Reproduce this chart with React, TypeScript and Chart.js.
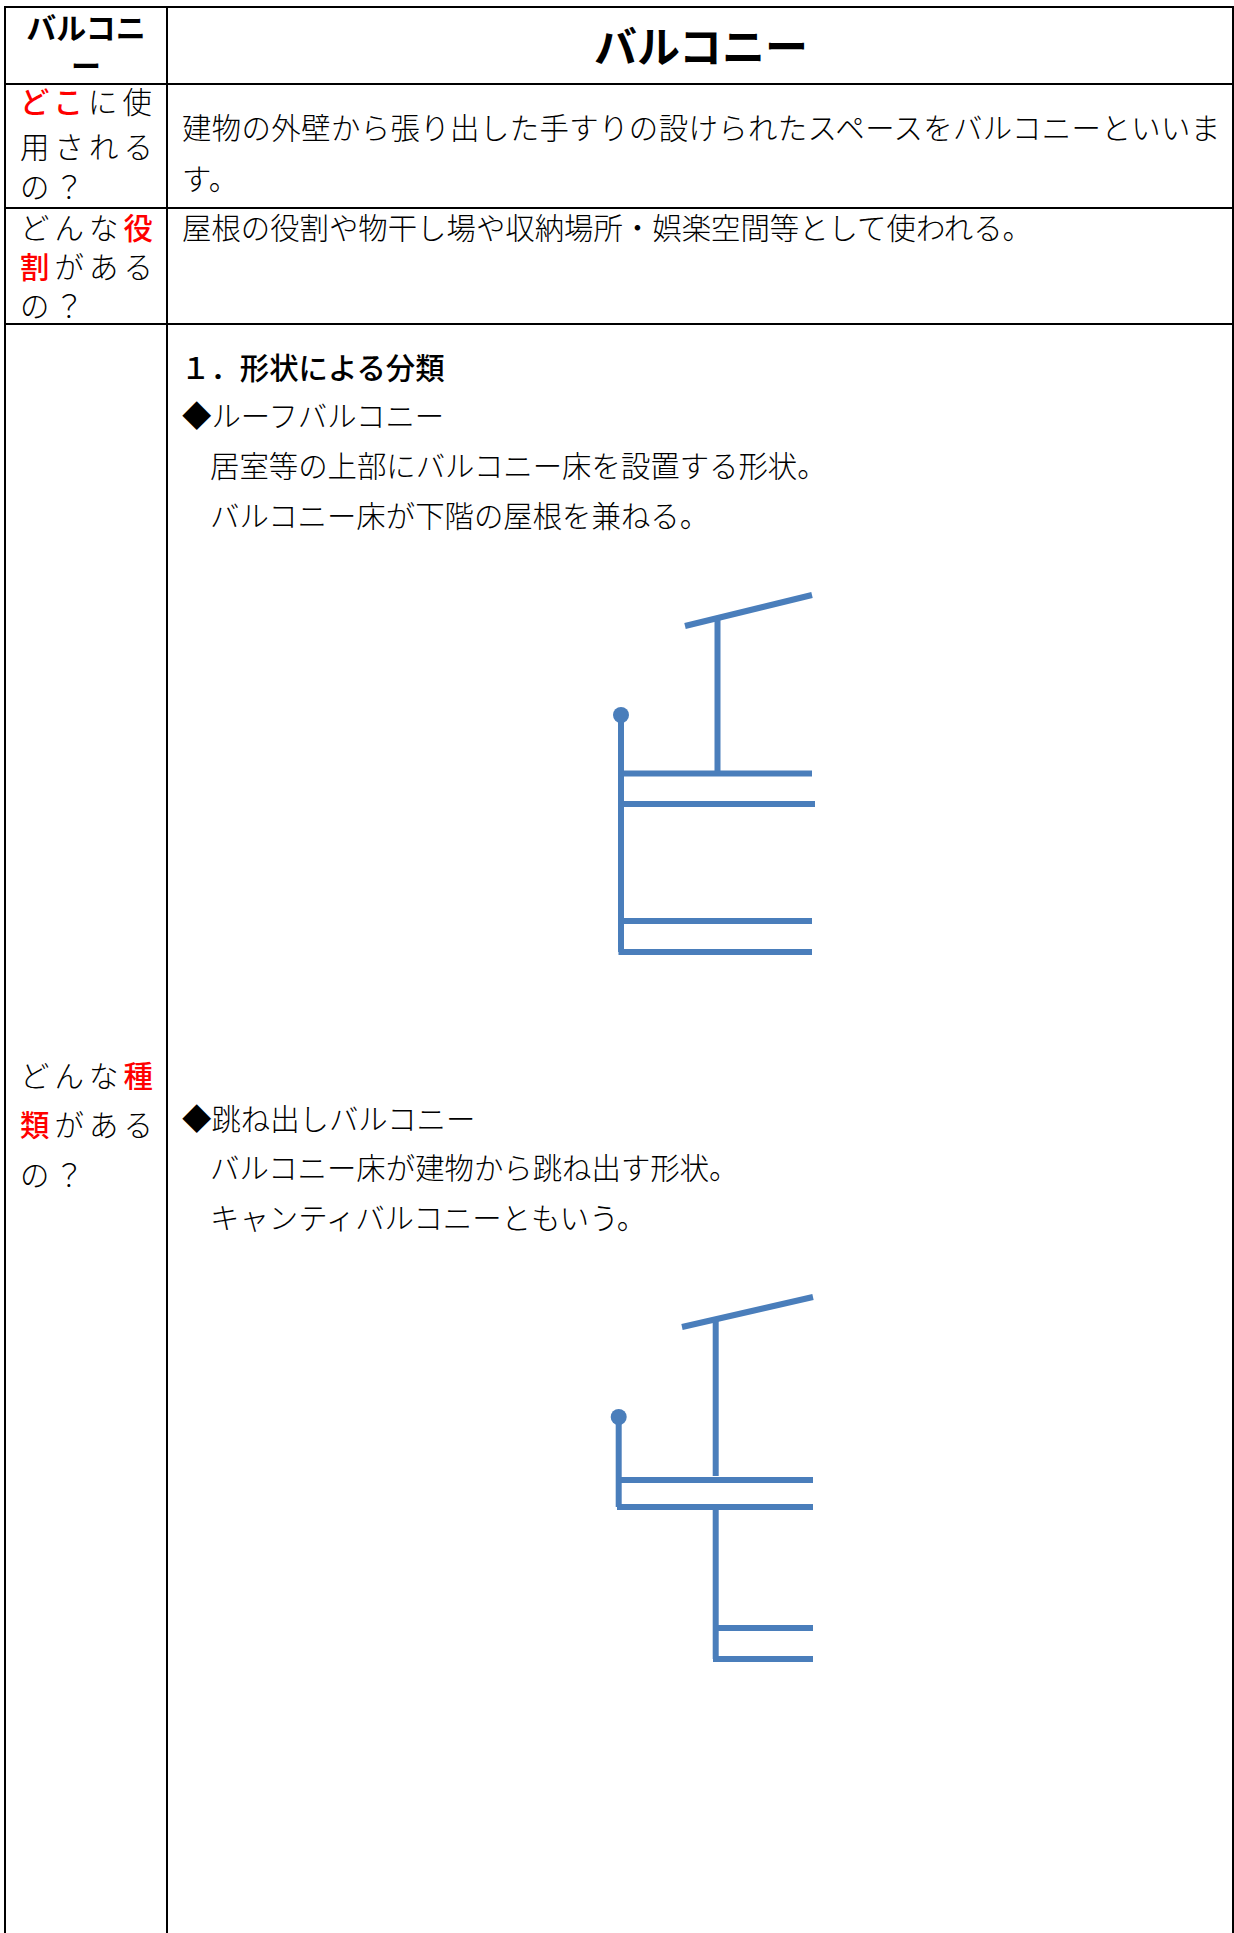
import React, { useEffect, useRef } from "react";
import { Chart, registerables } from "chart.js";

Chart.register(...registerables);

type Seg = [number, number, number, number];
type Run = { t: string; red?: boolean };
type TextLine = { runs: Run[]; x: number; y: number; size: number; weight: number; spacing: number; center?: boolean };

// Drawing values (diagram units, y grows downward)
const roofBalconyLines: Seg[] = [
  [85, 46, 212, 15],
  [117.5, 36, 117.5, 193],
  [21, 135, 21, 372],
  [20, 193.6, 212, 193.6],
  [20, 224, 215, 224],
  [20, 341, 212, 341],
  [18.5, 372, 212, 372],
];
const roofBalconyRailTop = [21, 135];

const cantileverLines: Seg[] = [
  [82, 47, 213, 17],
  [115.7, 40, 115.7, 196],
  [18.7, 137, 18.7, 227],
  [18, 200, 213, 200],
  [17, 227, 213, 227],
  [115.7, 227, 115.7, 379],
  [116, 348, 213, 348],
  [113, 379, 213, 379],
];
const cantileverRailTop = [18.7, 137];

const gridH = [7, 84, 208, 324];
const gridV = [5, 167, 1233];

const cjk = '"Noto Sans CJK JP", sans-serif';
const body = 29.4;
const sideGap = 5.1;
const Q = "の\uFF1F";

const textLines: TextLine[] = [
  { runs: [{ t: "バルコニー" }], x: 701, y: 44, size: 43, weight: 700, spacing: 0, center: true },

  { runs: [{ t: "どこ", red: true }, { t: "に使" }], x: 20, y: 101, size: body, weight: 300, spacing: sideGap },
  { runs: [{ t: "用される" }], x: 20, y: 146, size: body, weight: 300, spacing: sideGap },
  { runs: [{ t: Q }], x: 20, y: 186, size: body, weight: 300, spacing: sideGap },

  { runs: [{ t: "どんな" }, { t: "役", red: true }], x: 20, y: 227, size: body, weight: 300, spacing: sideGap },
  { runs: [{ t: "割", red: true }, { t: "がある" }], x: 20, y: 266, size: body, weight: 300, spacing: sideGap },
  { runs: [{ t: Q }], x: 20, y: 305, size: body, weight: 300, spacing: sideGap },

  { runs: [{ t: "どんな" }, { t: "種", red: true }], x: 20, y: 1075, size: body, weight: 300, spacing: sideGap },
  { runs: [{ t: "類", red: true }, { t: "がある" }], x: 20, y: 1124, size: body, weight: 300, spacing: sideGap },
  { runs: [{ t: Q }], x: 20, y: 1174, size: body, weight: 300, spacing: sideGap },

  { runs: [{ t: "建物の外壁から張り出した手すりの設けられたスペースをバルコニーといいま" }], x: 182, y: 127, size: body, weight: 300, spacing: 0.4 },
  { runs: [{ t: "す。" }], x: 182, y: 178, size: body, weight: 300, spacing: 0.4 },
  { runs: [{ t: "屋根の役割や物干し場や収納場所・娯楽空間等として使われる。" }], x: 182, y: 227, size: body, weight: 300, spacing: 0 },

  { runs: [{ t: "\uFF11\uFF0E形状による分類" }], x: 181, y: 367, size: body, weight: 500, spacing: 0 },
  { runs: [{ t: "◆ルーフバルコニー" }], x: 182, y: 415, size: body, weight: 300, spacing: 0 },
  { runs: [{ t: "居室等の上部にバルコニー床を設置する形状。" }], x: 210, y: 465, size: body, weight: 300, spacing: 0 },
  { runs: [{ t: "バルコニー床が下階の屋根を兼ねる。" }], x: 210, y: 515, size: body, weight: 300, spacing: 0 },

  { runs: [{ t: "◆跳ね出しバルコニー" }], x: 182, y: 1118, size: body, weight: 300, spacing: 0 },
  { runs: [{ t: "バルコニー床が建物から跳ね出す形状。" }], x: 210, y: 1167, size: body, weight: 300, spacing: 0 },
  { runs: [{ t: "キャンティバルコニーともいう。" }], x: 210, y: 1217, size: body, weight: 300, spacing: 0 },
];

const lineColor = "#4A7EBB";

function Diagram({ lines, railTop, left, top }: { lines: Seg[]; railTop: number[]; left: number; top: number }) {
  const ref = useRef<HTMLCanvasElement>(null);
  useEffect(() => {
    if (!ref.current) return;
    const datasets: any[] = lines.map((s) => ({
      data: [{ x: s[0], y: s[1] }, { x: s[2], y: s[3] }],
      showLine: true,
      borderColor: lineColor,
      borderWidth: 6,
      borderCapStyle: "butt",
      pointRadius: 0,
      tension: 0,
    }));
    datasets.push({
      data: [{ x: railTop[0], y: railTop[1] }],
      showLine: false,
      pointRadius: 8,
      pointBackgroundColor: lineColor,
      pointBorderWidth: 0,
    });
    const chart = new Chart(ref.current, {
      type: "scatter",
      data: { datasets },
      options: {
        animation: false,
        responsive: false,
        maintainAspectRatio: false,
        layout: { padding: 0, autoPadding: false },
        plugins: { legend: { display: false }, tooltip: { enabled: false }, title: { display: false } },
        scales: {
          x: { type: "linear", min: 0, max: 240, display: false },
          y: { type: "linear", min: 0, max: 400, reverse: true, display: false },
        },
      },
    });
    return () => chart.destroy();
  }, [lines, railTop]);
  return <canvas ref={ref} width={240} height={400} style={{ position: "absolute", left, top, width: 240, height: 400 }} />;
}

export default function App() {
  return (
    <div style={{ position: "relative", width: 1234, height: 1933, overflow: "hidden", background: "#fff", fontFamily: cjk, color: "#000" }}>
      <style>{`html,body{margin:0;padding:0;background:#fff}`}</style>
      {gridH.map((y) => (
        <div key={"h" + y} style={{ position: "absolute", left: 4, width: 1230, top: y - 1, height: 2, background: "#000" }} />
      ))}
      {gridV.map((x) => (
        <div key={"v" + x} style={{ position: "absolute", top: 6, bottom: 0, left: x - 1, width: 2, background: "#000" }} />
      ))}
      <div
        style={{
          position: "absolute",
          left: 21,
          top: 7,
          width: 130,
          fontSize: 30,
          fontWeight: 700,
          lineHeight: "38px",
          textAlign: "center",
          wordBreak: "break-all",
          lineBreak: "anywhere",
        }}
      >
        バルコニー
      </div>
      {textLines.map((l, i) => (
        <div
          key={i}
          style={{
            position: "absolute",
            left: l.x,
            top: l.y,
            transform: l.center ? "translate(-50%,-50%)" : "translateY(-50%)",
            fontSize: l.size,
            fontWeight: l.weight,
            letterSpacing: l.spacing,
            lineHeight: 1,
            whiteSpace: "nowrap",
          }}
        >
          {l.runs.map((r, j) => (
            <span key={j} style={r.red ? { color: "#FF0000", fontWeight: 500 } : undefined}>
              {r.t}
            </span>
          ))}
        </div>
      ))}
      <Diagram lines={roofBalconyLines} railTop={roofBalconyRailTop} left={600} top={580} />
      <Diagram lines={cantileverLines} railTop={cantileverRailTop} left={600} top={1280} />
    </div>
  );
}
